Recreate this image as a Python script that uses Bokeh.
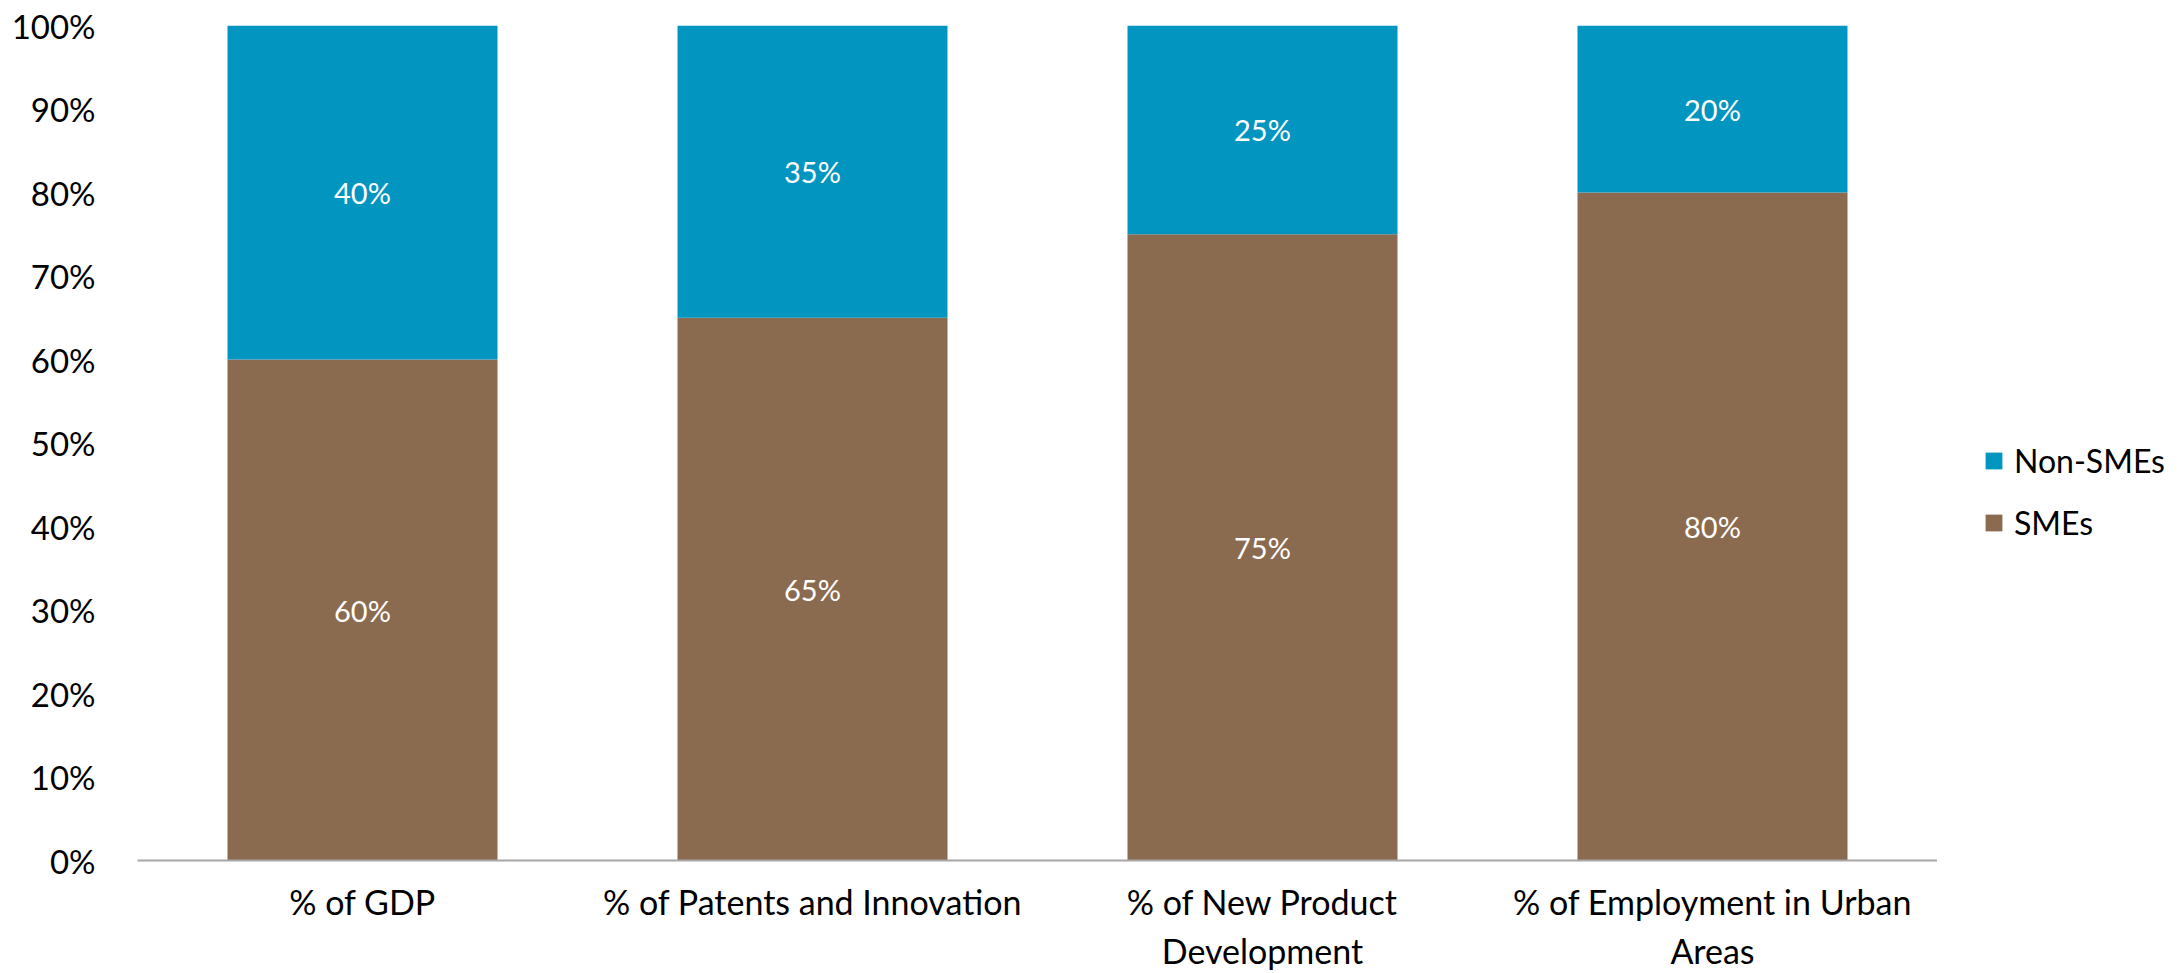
from bokeh.plotting import figure
from bokeh.models import (FactorRange, Range1d, NumeralTickFormatter, FixedTicker, ColumnDataSource,
                          Legend, LegendItem, LabelSet)
from bokeh.layouts import row
from bokeh.core.properties import value
from bokeh.embed import file_html
from bokeh.resources import INLINE

categories = ["% of GDP", "% of Patents and Innovation", "% of New Product\nDevelopment", "% of Employment in Urban\nAreas"]
smes = [0.60, 0.65, 0.75, 0.80]
non_smes = [0.40, 0.35, 0.25, 0.20]
series_names = ["SMEs", "Non-SMEs"]
colors = ["#8B6B4F", "#0295BF"]
y_ticks = [0.0, 0.1, 0.2, 0.3, 0.4, 0.5, 0.6, 0.7, 0.8, 0.9, 1.0]

FONT = "Lato"

src = ColumnDataSource(dict(cat=categories, SMEs=smes, **{"Non-SMEs": non_smes}))

p = figure(width=1937, height=973, x_range=FactorRange(*categories), y_range=Range1d(0, 1),
           output_backend="svg", toolbar_location=None,
           min_border_left=137, min_border_right=0, min_border_top=25, min_border_bottom=112)

renderers = p.vbar_stack(series_names, x="cat", width=0.6, source=src, color=colors, line_color=None)

# data labels
lab_x, lab_y, lab_t = [], [], []
for c, a, b in zip(categories, smes, non_smes):
    lab_x += [c, c]
    lab_y += [a / 2, a + b / 2]
    lab_t += [f"{round(a*100)}%", f"{round(b*100)}%"]
lsrc = ColumnDataSource(dict(x=lab_x, y=lab_y, t=lab_t))
p.add_layout(LabelSet(x="x", y="y", text="t", source=lsrc, text_align="center", text_baseline="middle",
                      text_color="white", text_font=value(FONT), text_font_size="29px"))

p.xgrid.visible = False
p.ygrid.visible = False
p.outline_line_color = None
p.background_fill_color = "white"
p.border_fill_color = "white"

ya = p.yaxis[0]
ya.ticker = FixedTicker(ticks=y_ticks, minor_ticks=[])
ya.formatter = NumeralTickFormatter(format="0%")
ya.axis_line_color = None
ya.major_tick_line_color = None
ya.minor_tick_line_color = None
ya.major_label_standoff = 36
ya.major_label_text_font = FONT
ya.major_label_text_font_size = "33px"
ya.major_label_text_color = "#000000"

xa = p.xaxis[0]
xa.axis_line_color = "#A6A6A6"
xa.axis_line_width = 2
xa.major_tick_line_color = None
xa.minor_tick_line_color = None
xa.major_label_standoff = 14
xa.major_label_text_font = FONT
xa.major_label_text_font_size = "34px"
xa.major_label_text_color = "#000000"

# legend panel: a second figure to the right of the plot area, holding only the legend
# (its renderers are hidden; the legend's inactive overlay is made transparent)
p2 = figure(width=243, height=973, x_range=FactorRange(*categories), y_range=Range1d(0, 1),
            output_backend="svg", toolbar_location=None,
            x_axis_location=None, y_axis_location=None, min_border=0)
p2.xgrid.visible = False
p2.ygrid.visible = False
p2.outline_line_color = None
leg_r = p2.vbar_stack(series_names, x="cat", width=0.6, source=src, color=colors, line_color=None)
for r in leg_r:
    r.visible = False

legend = Legend(items=[LegendItem(label="Non-SMEs", renderers=[leg_r[1]]),
                       LegendItem(label="SMEs", renderers=[leg_r[0]])],
                location=(46, 318), padding=0, margin=0, border_line_color=None,
                background_fill_alpha=0, glyph_width=21, glyph_height=21, label_standoff=10,
                spacing=23, label_text_font=FONT, label_text_font_size="32px", label_text_color="#000000",
                inactive_fill_alpha=0)
p2.add_layout(legend, "center")

layout = row(p, p2)
open("out.html", "w").write(file_html(layout, INLINE))
